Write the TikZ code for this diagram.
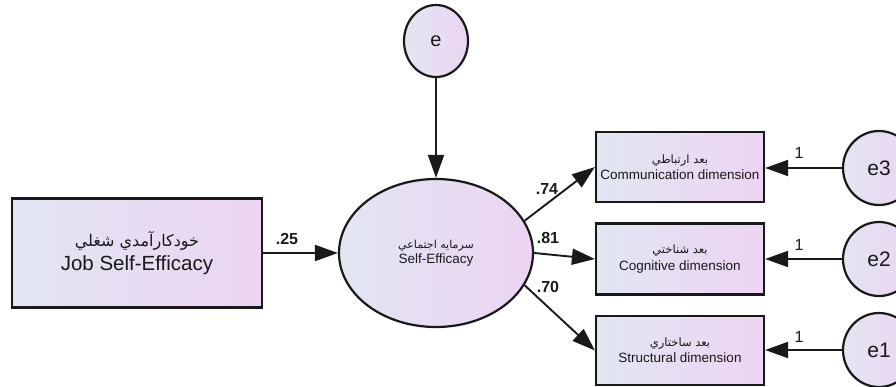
\documentclass[tikz,border=0pt]{standalone}
\usepackage{fontspec}
\setmainfont{Liberation Sans}
\newfontfamily\arabicfont[Script=Arabic]{DejaVu Sans}
\TeXXeTstate=1
\usetikzlibrary{shapes.geometric,arrows.meta}
\definecolor{gl}{RGB}{226,230,242}
\definecolor{gr}{RGB}{236,212,242}
\definecolor{ink}{RGB}{25,25,25}
\tikzset{
  grad/.style={left color=gl, right color=gr, draw=ink, line width=2.2pt, text=ink},
  obsbox/.style={grad, rectangle, inner sep=0pt, align=center},
  latent/.style={grad, ellipse, inner sep=0pt, align=center},
  conn/.style={draw=ink, line width=1.9pt, -{Triangle[length=23pt,width=16pt]}},
  coef/.style={font=\fontsize{16}{16}\selectfont\bfseries, text=ink},
  one/.style={font=\fontsize{16}{16}\selectfont, text=ink}
}
\begin{document}
\begin{tikzpicture}[x=1pt,y=-1pt]
\useasboundingbox (0,0) rectangle (896,387);
% nodes
\node[obsbox, minimum width=250pt, minimum height=109pt] (job) at (137,253)
  {{\arabicfont\fontsize{16}{19}\selectfont\beginR خودكارآمدي شغلي\endR}\\[4pt]
   {\fontsize{20.5}{22}\selectfont Job Self-Efficacy}};
\node[latent, minimum width=194pt, minimum height=148pt] (se) at (436,253)
  {{\arabicfont\fontsize{11}{13}\selectfont\beginR سرمايه اجتماعي\endR}\\[2pt]
   {\fontsize{13.5}{14}\selectfont Self-Efficacy}};
\node[latent, minimum width=64pt, minimum height=72pt,
  font=\fontsize{20}{20}\selectfont] (e) at (436,41) {e};
\node[obsbox, minimum width=168pt, minimum height=70pt] (comm) at (680,167)
  {{\arabicfont\fontsize{11.5}{13}\selectfont\beginR بعد ارتباطي\endR}\\[2.5pt]
   {\fontsize{13.5}{14}\selectfont Communication dimension}};
\node[obsbox, minimum width=168pt, minimum height=71pt] (cog) at (680,259)
  {{\arabicfont\fontsize{11.5}{13}\selectfont\beginR بعد شناختي\endR}\\[2.5pt]
   {\fontsize{13.5}{14}\selectfont Cognitive dimension}};
\node[obsbox, minimum width=168pt, minimum height=69pt] (str) at (680,350.5)
  {{\arabicfont\fontsize{11.5}{13}\selectfont\beginR بعد ساختاري\endR}\\[2.5pt]
   {\fontsize{13.5}{14}\selectfont Structural dimension}};
\node[latent, minimum width=72pt, minimum height=74pt,
  font=\fontsize{21}{21}\selectfont] (e3) at (879,168) {e3};
\node[latent, minimum width=72pt, minimum height=74pt,
  font=\fontsize{21}{21}\selectfont] (e2) at (879,259) {e2};
\node[latent, minimum width=72pt, minimum height=74pt,
  font=\fontsize{21}{21}\selectfont] (e1) at (879,350) {e1};
% connectors
\draw[conn] (job.east |- se.west) -- (se.west);
\draw[conn] (e) -- (se);
\draw[conn] (se.20) -- (comm.west);
\draw[conn] (se.east) -- (cog.west);
\draw[conn] (se.-20) -- (str.west);
\draw[conn] (e3.west) -- (e3.west -| comm.east);
\draw[conn] (e2.west) -- (e2.west -| cog.east);
\draw[conn] (e1.west) -- (e1.west -| str.east);
% labels
\node[coef] (l25) at (287,239) {.25};
\node[coef] (l74) at (547,189) {.74};
\node[coef] (l81) at (548,238) {.81};
\node[coef] (l70) at (548,287) {.70};
\node[one] (o3) at (799,153) {1};
\node[one] (o2) at (799,245) {1};
\node[one] (o1) at (799,337) {1};
\end{tikzpicture}
\end{document}
